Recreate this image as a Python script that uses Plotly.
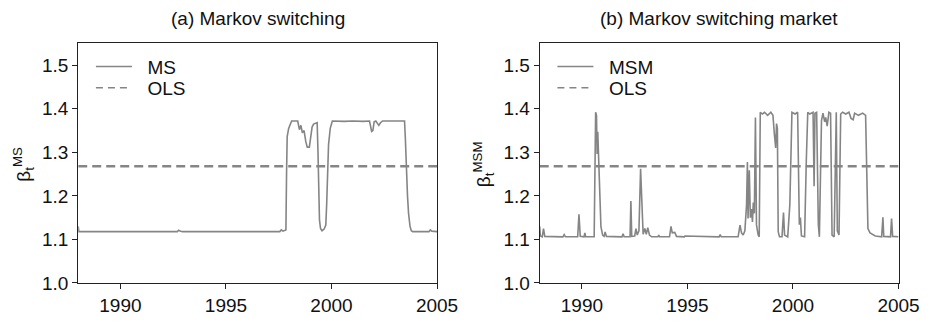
import plotly.graph_objects as go

# ---------------- data ----------------
MS_DATES = [1988.00, 1988.03, 1992.70, 1992.76, 1992.85, 1992.95, 1997.55, 1997.62, 1997.70,
            1997.78, 1997.84, 1997.87, 1997.90, 1997.97, 1998.05, 1998.11, 1998.30, 1998.40,
            1998.48, 1998.55, 1998.62, 1998.70, 1998.78, 1998.85, 1998.95, 1999.02, 1999.08,
            1999.15, 1999.32, 1999.36, 1999.39, 1999.43, 1999.48, 1999.55, 1999.65, 1999.73,
            1999.77, 1999.80, 1999.86, 1999.94, 2000.04, 2000.60, 2001.00, 2001.50, 2001.80,
            2001.85, 2001.90, 2001.96, 2002.02, 2002.10, 2002.18, 2002.24, 2002.32, 2002.42,
            2003.00, 2003.46, 2003.50, 2003.55, 2003.60, 2003.65, 2003.72, 2003.78, 2003.85,
            2004.62, 2004.68, 2004.75, 2005.00]
MS_VALUES = [1.130, 1.118, 1.118, 1.121, 1.119, 1.118, 1.118, 1.122, 1.119,
             1.120, 1.122, 1.250, 1.336, 1.355, 1.365, 1.372, 1.372, 1.372,
             1.352, 1.362, 1.345, 1.350, 1.325, 1.312, 1.312, 1.335, 1.358,
             1.365, 1.368, 1.300, 1.200, 1.145, 1.125, 1.120, 1.124, 1.133,
             1.180, 1.244, 1.318, 1.355, 1.372, 1.371, 1.372, 1.371, 1.372,
             1.360, 1.348, 1.350, 1.370, 1.372, 1.365, 1.362, 1.368, 1.372,
             1.372, 1.372, 1.330, 1.250, 1.200, 1.160, 1.130, 1.120, 1.118,
             1.118, 1.122, 1.119, 1.118]

MSM_DATES = [1988.00, 1988.03, 1988.12, 1988.18, 1988.24, 1989.10, 1989.16, 1989.22, 1989.80,
             1989.86, 1989.92, 1990.10, 1990.14, 1990.18, 1990.58, 1990.62, 1990.65, 1990.69,
             1990.72, 1990.75, 1990.79, 1990.84, 1990.90, 1990.98, 1991.05, 1991.10, 1991.16,
             1991.90, 1991.95, 1992.00, 1992.28, 1992.32, 1992.36, 1992.50, 1992.56, 1992.62,
             1992.70, 1992.78, 1992.84, 1992.90, 1992.98, 1993.05, 1993.12, 1993.20, 1993.30,
             1993.60, 1993.64, 1993.68, 1994.15, 1994.22, 1994.28, 1994.40, 1994.48, 1994.85,
             1994.88, 1996.50, 1996.55, 1996.60, 1997.40, 1997.49, 1997.56, 1997.64, 1997.72,
             1997.80, 1997.84, 1997.87, 1997.93, 1997.98, 1998.03, 1998.08, 1998.12, 1998.17,
             1998.22, 1998.27, 1998.35, 1998.40, 1998.45, 1998.55, 1998.65, 1998.80, 1998.95,
             1999.05, 1999.12, 1999.18, 1999.22, 1999.26, 1999.30, 1999.36, 1999.48, 1999.55,
             1999.60, 1999.75, 1999.85, 1999.90, 1999.95, 2000.10, 2000.22, 2000.30, 2000.35,
             2000.40, 2000.55, 2000.63, 2000.70, 2000.80, 2000.95, 2001.00, 2001.04, 2001.12,
             2001.20, 2001.25, 2001.35, 2001.42, 2001.50, 2001.55, 2001.62, 2001.70, 2001.78,
             2001.85, 2001.95, 2002.05, 2002.10, 2002.18, 2002.26, 2002.35, 2002.50, 2002.65,
             2002.75, 2002.85, 2002.92, 2003.10, 2003.30, 2003.44, 2003.50, 2003.55, 2003.65,
             2003.75, 2003.90, 2004.20, 2004.26, 2004.30, 2004.62, 2004.67, 2004.72, 2005.00]
MSM_VALUES = [1.130, 1.108, 1.106, 1.125, 1.107, 1.106, 1.111, 1.106, 1.106,
              1.158, 1.107, 1.106, 1.115, 1.106, 1.106, 1.300, 1.392, 1.385,
              1.296, 1.347, 1.300, 1.207, 1.130, 1.110, 1.107, 1.117, 1.107,
              1.106, 1.113, 1.106, 1.106, 1.188, 1.107, 1.108, 1.125, 1.110,
              1.120, 1.262, 1.180, 1.112, 1.125, 1.112, 1.127, 1.110, 1.106,
              1.106, 1.110, 1.106, 1.106, 1.130, 1.115, 1.116, 1.107, 1.106,
              1.108, 1.106, 1.111, 1.106, 1.106, 1.133, 1.115, 1.110, 1.120,
              1.180, 1.278, 1.148, 1.259, 1.150, 1.170, 1.140, 1.185, 1.160,
              1.380, 1.134, 1.110, 1.106, 1.392, 1.388, 1.392, 1.385, 1.392,
              1.385, 1.340, 1.310, 1.366, 1.355, 1.118, 1.106, 1.106, 1.162,
              1.110, 1.106, 1.180, 1.340, 1.392, 1.388, 1.392, 1.134, 1.150,
              1.108, 1.106, 1.280, 1.392, 1.388, 1.392, 1.222, 1.390, 1.392,
              1.134, 1.106, 1.373, 1.390, 1.370, 1.380, 1.360, 1.392, 1.390,
              1.110, 1.106, 1.392, 1.120, 1.110, 1.388, 1.392, 1.388, 1.392,
              1.378, 1.375, 1.390, 1.385, 1.390, 1.385, 1.200, 1.125, 1.115,
              1.112, 1.108, 1.106, 1.151, 1.107, 1.106, 1.148, 1.107, 1.106]

OLS_VALUE = 1.268
X_RANGE = [1988, 2005]
Y_RANGE = [1.0, 1.55]
X_TICKS = [1990, 1995, 2000, 2005]
Y_TICKS = [1.0, 1.1, 1.2, 1.3, 1.4, 1.5]
Y_TICK_LABELS = ["1.0", "1.1", "1.2", "1.3", "1.4", "1.5"]
TITLES = ["(a) Markov switching", "(b) Markov switching market"]
SERIES_NAMES = ["MS", "MSM"]

# ---------------- styling ----------------
W, H = 943, 322
FONT = "Liberation Sans, Arial, Helvetica, sans-serif"
GREY = "#858585"
AX = "#222222"
TXT = "#111111"
NB = "\u00a0\u00a0"

def px_x(p):
    return p / W

def px_y(p):
    return 1 - p / H

x_domains = [[px_x(80), px_x(447)], [px_x(552), px_x(919)]]
y_domain = [px_y(293), px_y(45)]
legend_left = [93, 565]

fig = go.Figure()

datasets = [(MS_DATES, MS_VALUES), (MSM_DATES, MSM_VALUES)]
for i, (xs, ys) in enumerate(datasets):
    xa = "x" if i == 0 else "x2"
    ya = "y" if i == 0 else "y2"
    lg_a = "legend" if i == 0 else "legend3"
    lg_b = "legend2" if i == 0 else "legend4"
    fig.add_trace(go.Scatter(x=xs, y=ys, mode="lines", name=NB + SERIES_NAMES[i],
                             line=dict(color=GREY, width=1.6),
                             xaxis=xa, yaxis=ya, legend=lg_a, showlegend=True))
    fig.add_trace(go.Scatter(x=X_RANGE, y=[OLS_VALUE, OLS_VALUE], mode="lines", name="OLS",
                             line=dict(color=GREY, width=2.6, dash="9px,5px"),
                             xaxis=xa, yaxis=ya, showlegend=False))
    # legend-only entry with the thinner dash used in the key
    fig.add_trace(go.Scatter(x=[None], y=[None], mode="lines", name=NB + "OLS",
                             line=dict(color=GREY, width=1.5, dash="7px,5px"),
                             xaxis=xa, yaxis=ya, legend=lg_b, showlegend=True))

axis_common = dict(showgrid=False, zeroline=False, showline=True, linecolor=AX, linewidth=1,
                   mirror=True, ticks="outside", ticklen=5, tickcolor=AX, tickwidth=1,
                   tickfont=dict(family=FONT, size=19, color=TXT))

for i in range(2):
    sfx = "" if i == 0 else "2"
    fig.update_layout(**{
        "xaxis" + sfx: dict(axis_common, domain=x_domains[i], range=X_RANGE, tickvals=X_TICKS,
                            anchor="y" + sfx),
        "yaxis" + sfx: dict(axis_common, domain=y_domain, range=Y_RANGE, tickvals=Y_TICKS,
                            ticktext=Y_TICK_LABELS, anchor="x" + sfx),
    })

annotations = []
for i in range(2):
    cx = (x_domains[i][0] + x_domains[i][1]) / 2
    annotations.append(dict(text=TITLES[i], x=cx, y=px_y(19), xref="paper", yref="paper",
                            xanchor="center", yanchor="middle", showarrow=False,
                            font=dict(family=FONT, size=19, color=TXT)))
    lab_x = [24, 494][i]
    annotations.append(dict(text="β<sub>t</sub><sup>" + SERIES_NAMES[i] + "</sup>",
                            x=px_x(lab_x), y=px_y(170), xref="paper", yref="paper",
                            xanchor="center", yanchor="middle", textangle=-90, showarrow=False,
                            font=dict(family=FONT, size=19, color=TXT)))

legend_common = dict(bgcolor="rgba(0,0,0,0)", borderwidth=0, xanchor="left", yanchor="middle",
                     font=dict(family=FONT, size=19, color=TXT), itemwidth=36,
                     tracegroupgap=0)

fig.update_layout(
    width=W, height=H, margin=dict(l=0, r=0, t=0, b=0),
    paper_bgcolor="white", plot_bgcolor="white",
    annotations=annotations,
    legend=dict(legend_common, x=px_x(legend_left[0]), y=px_y(69)),
    legend2=dict(legend_common, x=px_x(legend_left[0]), y=px_y(91)),
    legend3=dict(legend_common, x=px_x(legend_left[1]), y=px_y(69)),
    legend4=dict(legend_common, x=px_x(legend_left[1]), y=px_y(91)),
)

fig.write_html("out.html")
